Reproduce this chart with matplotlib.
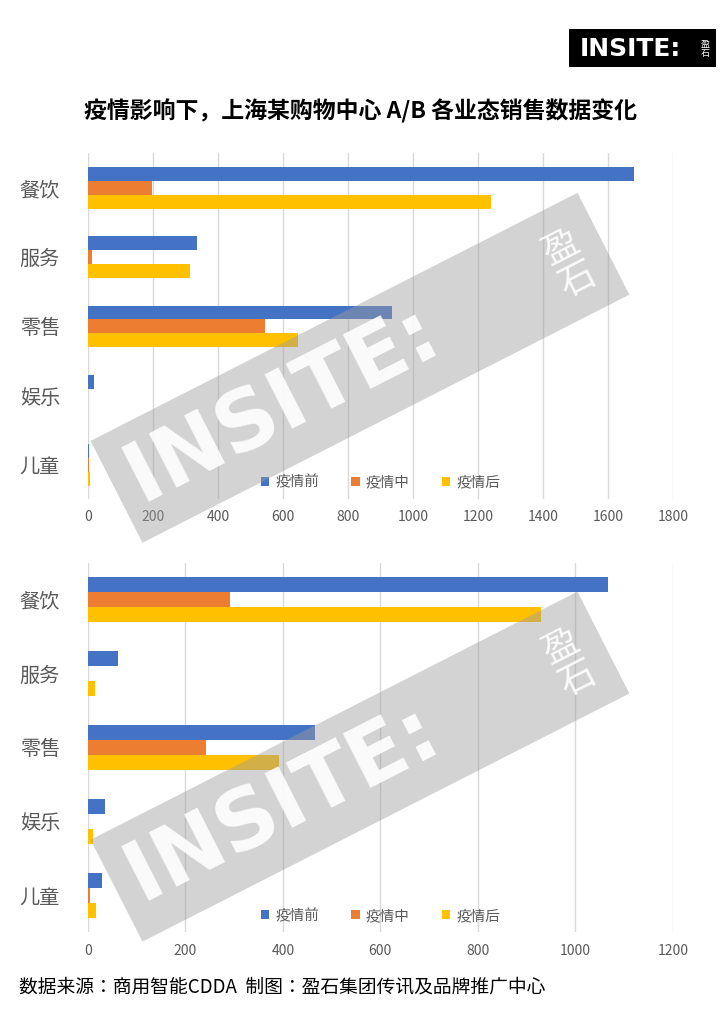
import matplotlib
matplotlib.use("Agg")
import numpy as np
import matplotlib.pyplot as plt
from matplotlib import font_manager

# pick whatever sans CJK font is really installed
cjk = sorted(set(f.name for f in font_manager.fontManager.ttflist if "CJK" in f.name))
sans = [n for n in cjk if "Sans" in n]
if "Noto Sans CJK SC" in sans:
    cjk_name = "Noto Sans CJK SC"
elif sans:
    cjk_name = sans[0]
else:
    cjk_name = cjk[0] if cjk else "DejaVu Sans"
plt.rcParams["font.family"] = [cjk_name, "DejaVu Sans"]

categories = ["餐饮", "服务", "零售", "娱乐", "儿童"]
series_names = ["疫情前", "疫情中", "疫情后"]
colors = ["#4472C4", "#ED7D31", "#FFC000"]

# chart A
a_before = [1680, 335, 935, 18, 5]
a_during = [197, 12, 545, 0, 3]
a_after = [1240, 314, 646, 0, 6]
# chart B
b_before = [1067, 62, 466, 35, 29]
b_during = [291, 0, 242, 0, 4]
b_after = [929, 14, 392, 10, 16]

fig = plt.figure(figsize=(7.2, 10.36), dpi=100)


def draw(ax, data, xmax, step):
    y = np.arange(len(categories))
    h = 0.2
    for i, (vals, name, c) in enumerate(zip(data, series_names, colors)):
        ax.barh(y + (i - 1) * h, vals, height=h, color=c, label=name, zorder=3)
    ax.set_ylim(len(categories) - 0.5, -0.5)
    ax.set_xlim(0, xmax)
    ax.set_xticks(np.arange(0, xmax + 1, step))
    ax.set_yticks(y)
    ax.set_yticklabels(categories, fontsize=14.5, color="#595959")
    ax.tick_params(axis="x", labelsize=10, colors="#595959", length=0, pad=8)
    ax.tick_params(axis="y", length=0, pad=20)
    ax.grid(axis="x", color="#d9d9d9", linewidth=1, zorder=0)
    for s in ax.spines.values():
        s.set_visible(False)
    ax.legend(loc="lower center", bbox_to_anchor=(0.5, -0.01), ncol=3, frameon=False,
              fontsize=10.5, handlelength=0.6, handleheight=0.6, columnspacing=2.2,
              handletextpad=0.4, labelcolor="#595959")


ax1 = fig.add_axes([0.122, 0.518, 0.8125, 0.334])
draw(ax1, [a_before, a_during, a_after], 1800, 200)
ax2 = fig.add_axes([0.122, 0.1, 0.8125, 0.357])
draw(ax2, [b_before, b_during, b_after], 1200, 200)

fig.text(0.5, 0.893, "疫情影响下，上海某购物中心 A/B 各业态销售数据变化",
         ha="center", va="center", fontsize=16.5, fontweight="bold", color="#000000")
fig.text(0.027, 0.047, "数据来源：商用智能CDDA  制图：盈石集团传讯及品牌推广中心",
         ha="left", va="center", fontsize=13.5, color="#000000")

# logo top right
fig.patches.append(plt.Rectangle((0.79, 0.935), 0.205, 0.037, transform=fig.transFigure,
                                 facecolor="black", edgecolor="none"))
fig.text(0.875, 0.953, "INSITE:", ha="center", va="center", fontsize=18, fontweight="bold",
         color="white", family="DejaVu Sans")
fig.text(0.98, 0.953, "盈\n石", ha="center", va="center", fontsize=6.5, color="white",
         linespacing=1.0)

# watermarks
for yy in (0.645, 0.26):
    fig.text(0.5, yy, "INSITE:      ", ha="center", va="center", rotation=27,
             fontsize=60, fontweight="bold", color="white", alpha=0.9, zorder=10,
             family="DejaVu Sans",
             bbox=dict(boxstyle="square,pad=0.2", facecolor="#9e9e9e", edgecolor="none", alpha=0.45))
    fig.text(0.79, yy + 0.1, "盈\n石", ha="center", va="center", rotation=27,
             fontsize=26, color="white", alpha=0.9, zorder=11, linespacing=1.0)

fig.savefig("out.png", dpi=100)
